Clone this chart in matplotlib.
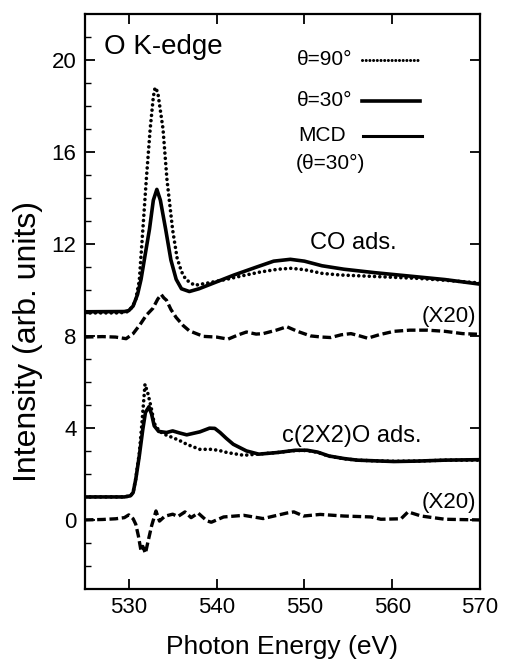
import matplotlib
matplotlib.use('Agg')
import matplotlib.pyplot as plt

plt.rcParams['font.family'] = ['Liberation Sans', 'DejaVu Sans']

# CO 吸着 (θ=90°, 点線)
co90_e = [525, 529.0, 529.8, 530.4, 530.8, 531.2, 531.6, 532.0, 532.44, 532.8, 533.0, 533.3,
          533.6, 533.9, 534.35, 535.0, 535.5, 536.0, 536.5, 537.5, 539, 541, 543, 545, 547,
          548.5, 550, 552, 554, 557, 560, 563, 566, 570]
co90_i = [9.0, 9.0, 9.05, 9.25, 9.6, 10.4, 12.6, 14.8, 17.0, 18.4, 18.8, 18.6,
          17.8, 17.0, 14.8, 12.6, 11.4, 10.8, 10.45, 10.2, 10.3, 10.45, 10.62, 10.78, 10.9,
          10.94, 10.88, 10.72, 10.65, 10.6, 10.55, 10.5, 10.42, 10.3]

# CO 吸着 (θ=30°, 実線)
co30_e = [525, 529.5, 530.0, 530.5, 531.0, 531.4, 531.9, 532.36, 532.8, 533.2, 533.6, 534.2,
          534.8, 535.4, 536.0, 536.9, 538, 540, 542, 544.6, 546.5, 548.4, 550, 552, 554.5,
          558, 562, 566, 570]
co30_i = [9.05, 9.06, 9.1, 9.3, 9.8, 10.46, 11.6, 12.64, 13.9, 14.37, 13.9, 12.64,
          11.3, 10.46, 10.05, 9.93, 10.05, 10.35, 10.65, 11.0, 11.25, 11.33, 11.25, 11.05, 10.9,
          10.75, 10.6, 10.45, 10.25]

# CO MCD (x20, 破線)
co_mcd_e = [525, 527, 528.5, 529.7, 530.5, 531.3, 532.0, 532.75, 533.3, 533.7, 534.0, 534.3,
            534.8, 535.4, 536.2, 536.9, 538.5, 540, 541.3, 542.5, 543.4, 544.5, 545.3, 546.8,
            548, 549.2, 550.7, 552, 553, 554.2, 555.3, 556.3, 557.2, 558.5, 560.2, 562, 564,
            566, 568, 570]
co_mcd_i = [7.95, 7.97, 7.95, 7.88, 8.1, 8.5, 8.9, 9.2, 9.6, 9.8, 9.65, 9.55,
            9.15, 8.8, 8.45, 8.22, 7.98, 7.95, 7.86, 8.05, 8.17, 8.08, 8.1, 8.25,
            8.4, 8.2, 8.0, 7.95, 7.93, 8.05, 8.1, 8.0, 7.9, 8.05, 8.2, 8.25, 8.25,
            8.2, 8.1, 8.07]

# c(2x2)O (θ=30°, 実線)
o30_e = [525, 529.5, 530.2, 530.5, 530.8, 531.2, 531.6, 531.9, 532.3, 532.6, 532.9, 533.4,
         534.3, 535.0, 535.8, 536.6, 538.1, 539.2, 539.8, 540.4, 541.1, 541.9, 543.4, 544.8,
         546.9, 549, 550.3, 551.5, 552.8, 554.5, 556, 558, 560.2, 563, 566, 570]
o30_i = [1.0, 1.0, 1.05, 1.19, 1.77, 2.78, 3.94, 4.67, 4.92, 4.6, 4.09, 3.85,
         3.8, 3.87, 3.78, 3.7, 3.83, 3.99, 3.98, 3.8, 3.55, 3.29, 3.0, 2.86,
         2.93, 3.03, 3.03, 2.95, 2.78, 2.67, 2.6, 2.57, 2.54, 2.56, 2.6, 2.62]

# c(2x2)O (θ=90°, 点線)
o90_e = [525, 529.5, 530.2, 530.5, 530.8, 531.2, 531.5, 531.85, 532.2, 532.6, 532.9, 533.5,
         534.2, 535.0, 535.8, 536.6, 537.4, 538.1, 539.5, 540.5, 541.2, 543.1, 544.6, 546.9,
         549, 550.3, 551.5, 552.8, 554.5, 556, 558, 560.2, 563, 566, 570]
o90_i = [1.0, 1.0, 1.05, 1.2, 1.8, 2.9, 4.2, 5.9, 5.47, 4.8, 4.2, 3.85,
         3.7, 3.58, 3.45, 3.29, 3.17, 3.07, 3.07, 3.0, 2.93, 2.81, 2.86, 2.93,
         3.02, 3.02, 2.94, 2.77, 2.66, 2.6, 2.57, 2.55, 2.56, 2.6, 2.6]

# c(2x2)O MCD (x20, 破線)
o_mcd_e = [525, 527, 528.5, 529.5, 530.0, 530.5, 530.8, 531.1, 531.4, 531.6, 531.9, 532.1,
           532.6, 533.1, 533.5, 534.1, 535.0, 535.6, 536.4, 537.1, 537.9, 538.9, 539.4, 540.8,
           543.1, 545.3, 548, 548.8, 549.9, 551.8, 554.5, 557.6, 558.7, 561, 561.8, 563.3,
           566, 570]
o_mcd_i = [0.0, 0.02, 0.05, 0.1, 0.22, 0.05, -0.19, -0.7, -1.35, -1.15, -1.45, -1.1,
           -0.26, 0.39, -0.05, 0.16, 0.25, 0.15, 0.35, 0.1, 0.3, -0.04, -0.1, 0.13,
           0.2, 0.06, 0.3, 0.35, 0.17, 0.24, 0.17, 0.13, 0.03, 0.05, 0.35, 0.17,
           0.03, 0.0]

legend_labels = ['θ=90°', 'θ=30°', 'MCD', '(θ=30°)']

dotted = (0, (0.01, 1.45))
dashed = (0, (2.6, 1.1))

fig = plt.figure(figsize=(5.08, 6.61), dpi=100)
ax = fig.add_axes([0.167, 0.109, 0.778, 0.870])

ax.plot(co90_e, co90_i, color='k', lw=2.6, linestyle=dotted, dash_capstyle='round')
ax.plot(co30_e, co30_i, color='k', lw=2.6)
ax.plot(co_mcd_e, co_mcd_i, color='k', lw=2.4, linestyle=dashed)
ax.plot(o90_e, o90_i, color='k', lw=2.6, linestyle=dotted, dash_capstyle='round')
ax.plot(o30_e, o30_i, color='k', lw=2.6)
ax.plot(o_mcd_e, o_mcd_i, color='k', lw=2.4, linestyle=dashed)

ax.set_xlim(525, 570)
ax.set_ylim(-3, 22)
ax.set_xticks([530, 540, 550, 560, 570])
ax.set_yticks([0, 4, 8, 12, 16, 20])
ax.set_yticks(range(-2, 22), minor=True)
ax.tick_params(axis='both', which='major', direction='in', length=7, width=1.3,
               labelsize=16, top=True, right=True, pad=6)
ax.tick_params(axis='y', which='minor', direction='in', length=4, width=1.0, right=False)
for sp in ax.spines.values():
    sp.set_linewidth(1.6)

ax.set_xlabel('Photon Energy (eV)', fontsize=19, labelpad=12)
ax.set_ylabel('Intensity (arb. units)', fontsize=23)
ax.yaxis.set_label_coords(-0.107, 0.43)

# 注記
ax.text(527.2, 20.55, 'O K-edge', fontsize=20, va='center', ha='left')
ax.text(550.6, 12.03, 'CO ads.', fontsize=17, va='center', ha='left')
ax.text(563.3, 8.86, '(X20)', fontsize=16, va='center', ha='left')
ax.text(547.4, 3.65, 'c(2X2)O ads.', fontsize=17, va='center', ha='left')
ax.text(563.3, 0.76, '(X20)', fontsize=16, va='center', ha='left')

# 凡例
tr = ax.transAxes
ax.text(0.537, 0.920, legend_labels[0], transform=tr, fontsize=15, va='center')
ax.plot([0.701, 0.846], [0.920, 0.920], transform=tr, color='k', lw=2.2,
        linestyle=(0, (0.01, 1.2)), dash_capstyle='round')
ax.text(0.537, 0.849, legend_labels[1], transform=tr, fontsize=15, va='center')
ax.plot([0.701, 0.848], [0.849, 0.849], transform=tr, color='k', lw=2.6)
ax.text(0.540, 0.788, legend_labels[2], transform=tr, fontsize=15, va='center')
ax.plot([0.705, 0.853], [0.788, 0.788], transform=tr, color='k', lw=2.2)
ax.text(0.533, 0.740, legend_labels[3], transform=tr, fontsize=15, va='center')

fig.savefig('out.png', dpi=100)
